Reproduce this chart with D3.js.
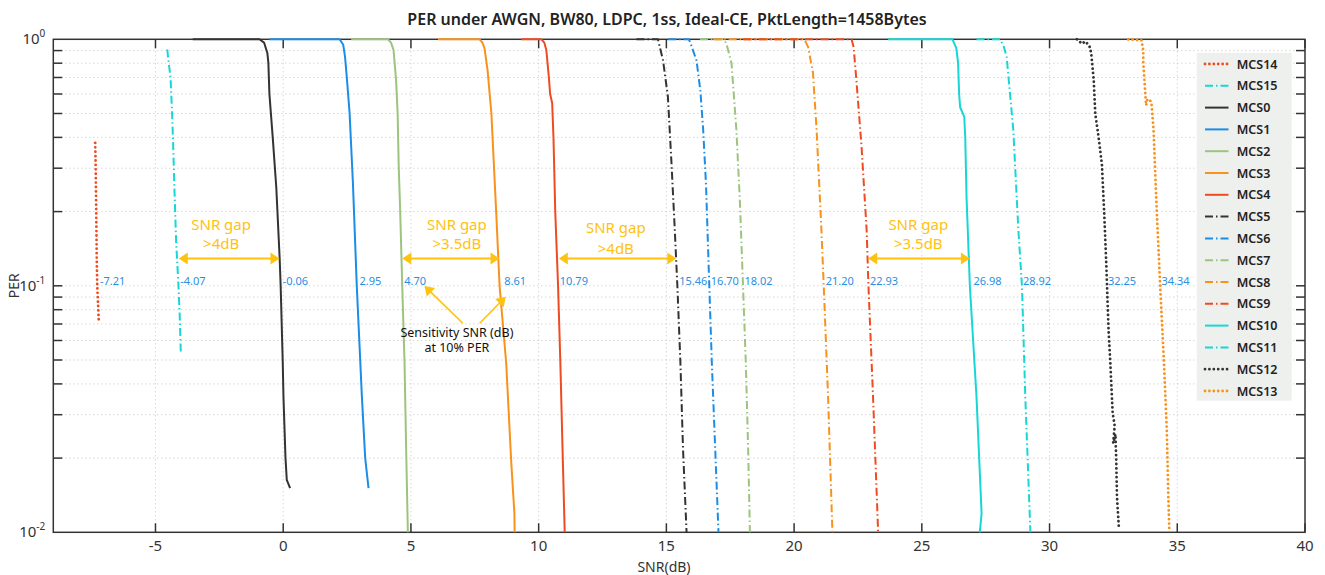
<!DOCTYPE html>
<html>
<head>
<meta charset="utf-8">
<script src="https://cdn.jsdelivr.net/npm/d3@7"></script>
<style>
  body { margin: 0; background: #fff; }
  text { font-family: "Noto Sans", sans-serif; }
</style>
</head>
<body>
<div id="chart"></div>
<script>
// ---- data (SNR dB, PER) ----
const mcs14 = [[-7.36,0.38],[-7.34,0.30],[-7.32,0.20],[-7.30,0.13],[-7.28,0.10],[-7.25,0.085],[-7.22,0.072]];
const mcs15 = [[-4.54,0.91],[-4.48,0.80],[-4.41,0.70],[-4.35,0.50],[-4.31,0.38],[-4.26,0.25],[-4.19,0.15],[-4.10,0.10],[-4.05,0.075],[-4.01,0.054]];
const mcs0 = [[-3.54,1],[-0.93,1],[-0.75,0.97],[-0.62,0.88],[-0.58,0.80],[-0.54,0.60],[-0.41,0.40],[-0.27,0.25],[-0.14,0.13],[-0.10,0.10],[-0.02,0.05],[0.01,0.0355],[0.09,0.02],[0.14,0.0163],[0.27,0.0151]];
const mcs1 = [[-0.54,1],[2.21,1],[2.35,0.95],[2.42,0.85],[2.49,0.70],[2.60,0.50],[2.73,0.26],[2.88,0.10],[3.08,0.0355],[3.21,0.02],[3.34,0.0151]];
const mcs2 = [[2.66,1],[4.10,1],[4.22,0.97],[4.32,0.905],[4.42,0.68],[4.48,0.50],[4.52,0.31],[4.58,0.20],[4.66,0.10],[4.75,0.0485],[4.82,0.02],[4.88,0.01]];
const mcs3 = [[6.06,1],[7.69,1],[7.80,0.97],[7.88,0.92],[8.00,0.75],[8.15,0.50],[8.34,0.197],[8.47,0.10],[8.73,0.0485],[8.93,0.019],[9.05,0.012],[9.06,0.01]];
const mcs4 = [[9.32,1],[10.11,1],[10.22,0.97],[10.30,0.905],[10.40,0.70],[10.45,0.60],[10.53,0.55],[10.58,0.40],[10.65,0.20],[10.76,0.10],[10.85,0.0485],[10.95,0.019],[11.02,0.01]];
const mcs5 = [[13.83,1],[14.67,1],[14.87,0.82],[15.06,0.585],[15.20,0.314],[15.33,0.168],[15.43,0.10],[15.55,0.0485],[15.65,0.022],[15.79,0.01]];
const mcs6 = [[15.07,1],[15.88,1],[15.95,0.96],[16.18,0.82],[16.33,0.62],[16.44,0.43],[16.55,0.26],[16.68,0.10],[16.78,0.0485],[16.91,0.022],[17.04,0.01]];
const mcs7 = [[16.31,1],[17.25,1],[17.35,0.96],[17.55,0.80],[17.74,0.43],[17.87,0.23],[18.00,0.10],[18.11,0.0485],[18.20,0.022],[18.27,0.01]];
const mcs8 = [[16.83,1],[20.40,1],[20.55,0.93],[20.74,0.73],[20.88,0.43],[21.07,0.168],[21.16,0.10],[21.33,0.0355],[21.50,0.01]];
const mcs9 = [[18.00,1],[22.25,1],[22.33,0.93],[22.44,0.68],[22.64,0.367],[22.84,0.168],[22.91,0.10],[23.09,0.0355],[23.29,0.01]];
const mcs10 = [[23.68,1],[26.20,1],[26.35,0.92],[26.42,0.80],[26.46,0.60],[26.50,0.53],[26.66,0.486],[26.70,0.40],[26.75,0.23],[26.88,0.10],[27.14,0.0355],[27.34,0.0119],[27.27,0.01]];
const mcs11 = [[27.14,1],[28.06,1],[28.20,0.94],[28.32,0.85],[28.58,0.43],[28.78,0.168],[28.92,0.10],[29.05,0.0355],[29.25,0.01]];
const mcs12 = [[31.07,1],[31.27,0.96],[31.40,0.98],[31.56,0.94],[31.63,0.88],[31.73,0.68],[31.79,0.50],[31.92,0.40],[32.05,0.31],[32.14,0.197],[32.22,0.123],[32.25,0.10],[32.31,0.066],[32.38,0.0485],[32.47,0.0305],[32.55,0.027],[32.49,0.023],[32.58,0.025],[32.61,0.0197],[32.64,0.0139],[32.71,0.0106]];
const mcs13 = [[33.08,1],[33.60,0.99],[33.67,0.90],[33.67,0.80],[33.74,0.62],[33.78,0.54],[33.83,0.57],[33.92,0.57],[33.99,0.55],[34.07,0.43],[34.20,0.197],[34.33,0.10],[34.48,0.0485],[34.59,0.026],[34.65,0.0139],[34.69,0.01]];

const seriesNames = ["MCS14","MCS15","MCS0","MCS1","MCS2","MCS3","MCS4","MCS5","MCS6","MCS7","MCS8","MCS9","MCS10","MCS11","MCS12","MCS13"];
const seriesData = [mcs14, mcs15, mcs0, mcs1, mcs2, mcs3, mcs4, mcs5, mcs6, mcs7, mcs8, mcs9, mcs10, mcs11, mcs12, mcs13];

// sensitivity SNR at 10% PER
const sensSnr = [-7.21,-4.07,-0.06,2.95,4.70,8.61,10.79,15.46,16.70,18.02,21.20,22.93,26.98,28.92,32.25,34.34];
const sensLabels = ["-7.21","-4.07","-0.06","2.95","4.70","8.61","10.79","15.46","16.70","18.02","21.20","22.93","26.98","28.92","32.25","34.34"];

// SNR gap callouts
const gapFrom = [-4.09, 4.66, 10.79, 22.90];
const gapTo = [-0.145, 8.47, 15.39, 26.88];
const gapText = [">4dB", ">3.5dB", ">4dB", ">3.5dB"];
const gapTextX = [-2.43, 6.80, 13.02, 24.86];
const gapTextPer = [[0.168, 0.141], [0.168, 0.141], [0.163, 0.135], [0.168, 0.141]];
const gapPer = 0.129;

const xTicks = [-5, 0, 5, 10, 15, 20, 25, 30, 35, 40];

// ---- styles ----
const dark = "#333333", blue = "#1b8de6", green = "#9cc47e", orange = "#f8921c", red = "#f04b20", cyan = "#18d6d6";
const seriesColor = [red, cyan, dark, blue, green, orange, red, dark, blue, green, orange, red, cyan, cyan, dark, orange];
const seriesStyle = ["dot","dashdot","solid","solid","solid","solid","solid","dashdot","dashdot","dashdot","dashdot","dashdot","solid","dashdot","dot","dot"];
const yellow = "#ffc20e";

const width = 1325, height = 575;
const margin = {top: 39.3, right: 20, bottom: 42.7, left: 53.3};

const svg = d3.select("#chart").append("svg")
    .attr("width", width)
    .attr("height", height);

const x = d3.scaleLinear().domain([-9, 40]).range([margin.left, width - margin.right]);
const y = d3.scaleLog().domain([0.01, 1]).range([height - margin.bottom, margin.top]);

const x0 = x.range()[0], x1 = x.range()[1], y0 = y.range()[0], y1 = y.range()[1];

// grid
const yMinor = [];
[0.01, 0.1].forEach(dec => { for (let k = 2; k <= 9; k++) yMinor.push(dec * k); });
const grid = svg.append("g").attr("stroke", "#c4c4c4").attr("stroke-dasharray", "1 3").attr("stroke-width", 1);
grid.selectAll(".gy").data(yMinor.concat([0.1])).join("line")
    .attr("x1", x0).attr("x2", x1).attr("y1", d => y(d)).attr("y2", d => y(d));
grid.selectAll(".gx").data(xTicks.slice(0, -1)).join("line")
    .attr("x1", d => x(d)).attr("x2", d => x(d)).attr("y1", y0).attr("y2", y1);

// frame + ticks
const axisColor = "#333";
svg.append("rect").attr("x", x0).attr("y", y1).attr("width", x1 - x0).attr("height", y0 - y1)
    .attr("fill", "none").attr("stroke", axisColor).attr("stroke-width", 1.5);

const tickLen = 9;
const ticks = svg.append("g").attr("stroke", axisColor).attr("stroke-width", 1.5);
ticks.selectAll(".xb").data(xTicks).join("line")
    .attr("x1", d => x(d)).attr("x2", d => x(d)).attr("y1", y0).attr("y2", y0 - tickLen);
ticks.selectAll(".xt").data(xTicks).join("line")
    .attr("x1", d => x(d)).attr("x2", d => x(d)).attr("y1", y1).attr("y2", y1 + tickLen);
const yAll = yMinor.concat([0.1]);
ticks.selectAll(".yl").data(yAll).join("line")
    .attr("x1", x0).attr("x2", x0 + tickLen).attr("y1", d => y(d)).attr("y2", d => y(d));
ticks.selectAll(".yr").data(yAll).join("line")
    .attr("x1", x1).attr("x2", x1 - tickLen).attr("y1", d => y(d)).attr("y2", d => y(d));

// tick labels
svg.append("g").selectAll("text").data(xTicks).join("text")
    .attr("x", d => x(d)).attr("y", y0 + 19)
    .attr("text-anchor", "middle").attr("font-size", 15).attr("fill", "#333")
    .text(d => d);

const yLab = svg.append("g").selectAll("text").data([[1, "0"], [0.1, "-1"], [0.01, "-2"]]).join("text")
    .attr("x", x0 - 8).attr("y", d => y(d[0]) + 5)
    .attr("text-anchor", "end").attr("font-size", 15).attr("fill", "#333");
yLab.append("tspan").text("10");
yLab.append("tspan").attr("dy", -7).attr("font-size", 10).text(d => d[1]);

// titles
svg.append("text").attr("x", 667).attr("y", 25).attr("text-anchor", "middle")
    .attr("font-size", 16).attr("font-weight", 600).attr("fill", "#222")
    .text("PER under AWGN, BW80, LDPC, 1ss, Ideal-CE, PktLength=1458Bytes");
svg.append("text").attr("x", 664).attr("y", 572).attr("text-anchor", "middle")
    .attr("font-size", 14).attr("fill", "#333").text("SNR(dB)");
svg.append("text").attr("transform", `translate(19,${y(0.1)}) rotate(-90)`).attr("text-anchor", "middle")
    .attr("font-size", 14).attr("fill", "#333").text("PER");

// curves
const line = d3.line().x(d => x(d[0])).y(d => y(d[1]));
function applyStyle(sel, i) {
    const s = seriesStyle[i];
    sel.attr("fill", "none").attr("stroke", seriesColor[i]).attr("stroke-linejoin", "round");
    if (s === "solid") sel.attr("stroke-width", 2);
    if (s === "dashdot") sel.attr("stroke-width", 2).attr("stroke-dasharray", "8 3 1.5 3");
    if (s === "dot") sel.attr("stroke-width", 2.8).attr("stroke-dasharray", "0.01 4.4").attr("stroke-linecap", "round");
}
seriesData.forEach((d, i) => {
    svg.append("path").attr("d", line(d)).call(applyStyle, i);
});

// sensitivity labels
svg.append("g").selectAll("text").data(sensSnr).join("text")
    .attr("x", d => x(d) + 1).attr("y", y(0.1) - 1)
    .attr("font-size", 11).attr("fill", "#2a8fe2")
    .text((d, i) => sensLabels[i]);

// arrow helper
function arrowHead(g, ax, ay, bx, by) {
    const ang = Math.atan2(by - ay, bx - ax), L = 9, W = 6;
    const px = bx - L * Math.cos(ang), py = by - L * Math.sin(ang);
    const nx = -Math.sin(ang) * W, ny = Math.cos(ang) * W;
    g.append("polygon").attr("fill", yellow)
        .attr("points", `${bx},${by} ${px + nx},${py + ny} ${px - nx},${py - ny}`);
}

// SNR gap arrows
const ann = svg.append("g");
gapFrom.forEach((f, i) => {
    const ax = x(f), bx = x(gapTo[i]), ay = y(gapPer);
    ann.append("line").attr("x1", ax + 6).attr("x2", bx - 6).attr("y1", ay).attr("y2", ay)
        .attr("stroke", yellow).attr("stroke-width", 2);
    arrowHead(ann, bx, ay, ax, ay);
    arrowHead(ann, ax, ay, bx, ay);
    ann.append("text").attr("x", x(gapTextX[i])).attr("y", y(gapTextPer[i][0]))
        .attr("text-anchor", "middle").attr("font-size", 15).attr("fill", yellow).text("SNR gap");
    ann.append("text").attr("x", x(gapTextX[i])).attr("y", y(gapTextPer[i][1]))
        .attr("text-anchor", "middle").attr("font-size", 15).attr("fill", yellow).text(gapText[i]);
});

// sensitivity callout
const calloutArrows = [[[7.03, 0.0705], [5.53, 0.0998]], [[7.69, 0.0705], [8.71, 0.0903]]];
calloutArrows.forEach(a => {
    const ax = x(a[0][0]), ay = y(a[0][1]), bx = x(a[1][0]), by = y(a[1][1]);
    const ang = Math.atan2(by - ay, bx - ax);
    ann.append("line").attr("x1", ax).attr("y1", ay)
        .attr("x2", bx - 6 * Math.cos(ang)).attr("y2", by - 6 * Math.sin(ang))
        .attr("stroke", yellow).attr("stroke-width", 1.6);
    arrowHead(ann, ax, ay, bx, by);
});
ann.append("text").attr("x", x(6.80)).attr("y", y(0.0622)).attr("text-anchor", "middle")
    .attr("font-size", 12.5).attr("fill", "#111").text("Sensitivity SNR (dB)");
ann.append("text").attr("x", x(6.80)).attr("y", y(0.054)).attr("text-anchor", "middle")
    .attr("font-size", 12.5).attr("fill", "#111").text("at 10% PER");

// legend
const lg = svg.append("g");
lg.append("rect").attr("x", 1196.7).attr("y", 52.7).attr("width", 95).attr("height", 348)
    .attr("fill", "#eef0ee");
seriesNames.forEach((name, i) => {
    const ly = 64 + i * 21.8;
    lg.append("line").attr("x1", 1205).attr("x2", 1228.5).attr("y1", ly).attr("y2", ly).call(applyStyle, i);
    lg.append("text").attr("x", 1236.7).attr("y", ly + 4.5).attr("font-size", 12.5)
        .attr("font-weight", 600).attr("fill", "#222").text(name);
});
</script>
</body>
</html>
